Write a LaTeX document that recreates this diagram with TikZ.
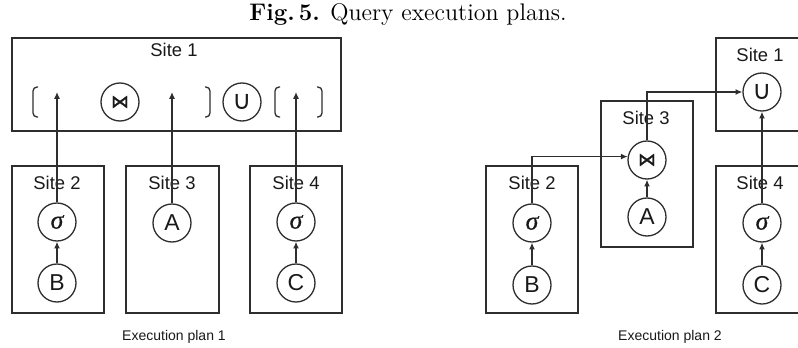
\documentclass[tikz,border=0pt]{standalone}
\usepackage{fontspec}
\newfontfamily\arialfont{Liberation Sans}
\newfontfamily\symfont{DejaVu Sans}
\newfontfamily\joinfont[FakeBold=1.5]{DejaVu Sans}
\newfontfamily\sigfont[FakeBold=0.8]{Liberation Serif}
\usetikzlibrary{arrows.meta}
\definecolor{ln}{gray}{0.18}
\definecolor{tx}{gray}{0.1}
\tikzset{
  sitebox/.style={draw=ln, line width=0.65pt, inner sep=0pt, minimum width=46pt, minimum height=73.5pt},
  op/.style={circle, draw=ln, line width=0.65pt, minimum size=19pt, inner sep=0pt, text=tx},
  sitelab/.style={inner sep=0pt, text=tx, font=\arialfont\fontsize{9.2}{10}\selectfont},
  planlab/.style={inner sep=0pt, text=tx, font=\arialfont\fontsize{7}{8}\selectfont},
  rel/.style={op, font=\arialfont\fontsize{11.5}{12}\selectfont},
  sel/.style={op, font=\sigfont\itshape\fontsize{13}{14}\selectfont},
  flow/.style={draw=ln, line width=0.65pt, -{Latex[length=3.4pt,width=3pt]}},
  brk/.style={draw=ln, line width=0.65pt, rounded corners=2pt},
}
\newcommand{\sigmaop}{σ}
\newcommand{\joinop}{{\joinfont\fontsize{9}{10}\selectfont ⋈}}
\newcommand{\unionop}{{\symfont\fontsize{13}{14}\selectfont ∪}}

\begin{document}
\begin{tikzpicture}[x=0.5pt,y=-0.5pt]
\useasboundingbox (0,0) rectangle (798,348);
\clip (0,0) rectangle (798,348);

% caption
\node[inner sep=0pt, font=\fontsize{12}{14}\selectfont] (caption) at (408,14)
  {\textbf{Fig.\,5.} Query execution plans.};

% ---------------- plan 1 ----------------
\node[sitebox, minimum width=164.5pt, minimum height=46.5pt] (a1box) at (176.5,84.5) {};
\node[sitelab] (a1lab) at (174,50) {Site 1};
\node[op] (a1join) at (120,102) {\joinop};
\node[op] (a1union) at (242,102) {\unionop};
% bracket groups around the operands
\draw[brk] (38,87) -- (33,87) -- (33,117) -- (38,117);
\draw[brk] (205,87) -- (210,87) -- (210,117) -- (205,117);
\draw[brk] (280,87) -- (275,87) -- (275,117) -- (280,117);
\draw[brk] (317,87) -- (322,87) -- (322,117) -- (317,117);
\coordinate (a1in1) at (57,92);
\coordinate (a1in2) at (172,92);
\coordinate (a1in3) at (296,92);

\node[sitebox] (a2box) at (58,239.5) {};
\node[sitelab] (a2lab) at (57,183) {Site 2};
\node[sel] (a2sel) at (57,222) {\sigmaop};
\node[rel] (a2B) at (57,283) {B};

\node[sitebox, minimum width=46.5pt] (a3box) at (172.5,239.5) {};
\node[sitelab] (a3lab) at (172,183) {Site 3};
\node[rel] (a3A) at (172,223) {A};

\node[sitebox] (a4box) at (296,239.5) {};
\node[sitelab] (a4lab) at (296,183) {Site 4};
\node[sel] (a4sel) at (296,222) {\sigmaop};
\node[rel] (a4C) at (296,283) {C};

\draw[flow] (a2B) -- (a2sel);
\draw[flow] (a4C) -- (a4sel);
\draw[flow] (a2sel.north) -- (a1in1);
\draw[flow] (a3A.north) -- (a1in2);
\draw[flow] (a4sel.north) -- (a1in3);

\node[planlab] (plan1) at (174,337) {Execution plan 1};

% ---------------- plan 2 ----------------
\node[sitebox, minimum width=47pt, minimum height=46.5pt] (b1box) at (763,84.5) {};
\node[sitelab] (b1lab) at (760,55) {Site 1};
\node[op] (b1union) at (762,92) {\unionop};

\node[sitebox, minimum height=73pt] (b3box) at (647,174) {};
\node[sitelab] (b3lab) at (646,118) {Site 3};
\node[op] (b3join) at (647,160) {\joinop};
\node[rel] (b3A) at (647,217) {A};

\node[sitebox] (b2box) at (532,239.5) {};
\node[sitelab] (b2lab) at (532,183) {Site 2};
\node[sel] (b2sel) at (532,223) {\sigmaop};
\node[rel] (b2B) at (532,285) {B};

\node[sitebox, minimum width=47pt] (b4box) at (763,239.5) {};
\node[sitelab] (b4lab) at (760,183) {Site 4};
\node[sel] (b4sel) at (762,223) {\sigmaop};
\node[rel] (b4C) at (762,285) {C};

\draw[flow] (b2B) -- (b2sel);
\draw[flow] (b3A) -- (b3join);
\draw[flow] (b4C) -- (b4sel);
\draw[flow] (b2sel.north) |- (b3join.170);
\draw[flow] (b3join.north) |- (b1union.west);
\draw[flow] (b4sel.north) -- (b1union.south);

\node[planlab] (plan2) at (670,337) {Execution plan 2};
\end{tikzpicture}
\end{document}
